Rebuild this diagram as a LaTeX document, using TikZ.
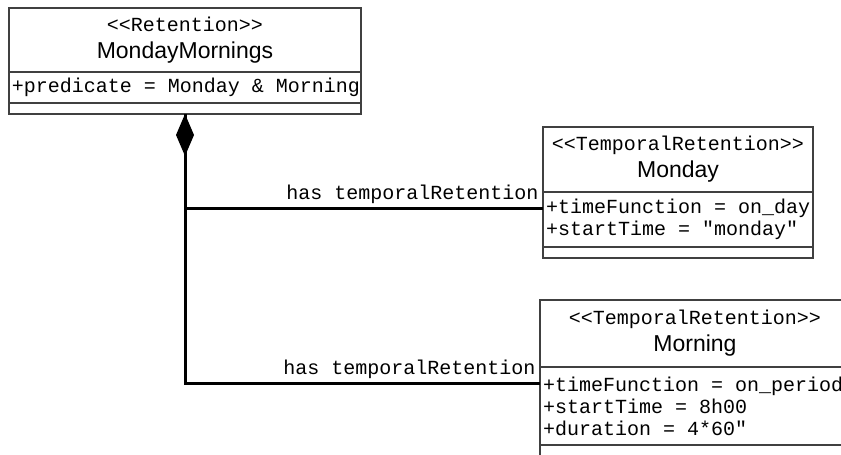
\documentclass[tikz,border=0pt]{standalone}
\usepackage{fontspec}
\setmainfont{Liberation Sans}
\setmonofont{Liberation Mono}
\usetikzlibrary{arrows.meta, positioning}
\newcommand{\umlmono}{\ttfamily\fontsize{20}{22}\selectfont}
\newcommand{\umlstereo}[1]{{\umlmono #1}}
\tikzset{
  uml head/.style={
    rectangle, draw=black!75, line width=1.2pt,
    outer sep=0pt, inner sep=0pt, align=center,
    font=\fontsize{23}{27}\selectfont
  },
  uml attr/.style={
    rectangle, draw=black!75, line width=1.2pt,
    outer sep=0pt, inner xsep=3pt, inner ysep=0pt,
    text width=#1, align=flush left, font=\umlmono
  },
  uml ops/.style={
    rectangle, draw=black!75, line width=1.2pt,
    outer sep=0pt, inner sep=0pt, minimum height=11
  },
  uml link/.style={
    draw=black, line width=3pt
  },
  uml comp/.style={
    uml link, {Diamond[length=42pt, width=18pt]}-
  },
  uml label/.style={
    font=\umlmono, inner xsep=3pt, inner ysep=3pt
  }
}

\begin{document}
\begin{tikzpicture}[x=1pt, y=-1pt]
  \useasboundingbox (0,0) rectangle (841,455);
  \clip (0,0) rectangle (841,455);

  \node (mm) [uml head, minimum width=352, minimum height=64] at (185,40)
    {\umlstereo{<<Retention>>}\\MondayMornings};
  \node (mm attr) [uml attr=346pt, minimum height=31, below=0pt of mm]
    {\mbox{+predicate = Monday \& Morning}};
  \node (mm ops) [uml ops, minimum width=352, below=0pt of mm attr] {};

  \node (mon) [uml head, minimum width=270, minimum height=65] at (678,159.5)
    {\umlstereo{<<TemporalRetention>>}\\Monday};
  \node (mon attr) [uml attr=264pt, minimum height=55, below=0pt of mon]
    {\mbox{+timeFunction = on\_day}\\+startTime = "monday"};
  \node (mon ops) [uml ops, minimum width=270, below=0pt of mon attr] {};

  \node (mor) [uml head, minimum width=310, minimum height=67] at (695,333.5)
    {\umlstereo{<<TemporalRetention>>}\\Morning};
  \node (mor attr) [uml attr=304pt, minimum height=78, below=0pt of mor]
    {\mbox{+timeFunction = on\_period}\\+startTime = 8h00\\+duration = 4*60"};
  \node (mor ops) [uml ops, minimum width=310, below=0pt of mor attr] {};

  % composition
  \draw [uml link] (mm ops.south) |- ([yshift=-16pt]mor attr.north west)
    node [uml label, pos=1, anchor=south east] {has temporalRetention};
  \draw [uml comp] (mm ops.south) |- ([yshift=-16pt]mon attr.north west)
    node [uml label, pos=1, anchor=south east] {has temporalRetention};
\end{tikzpicture}
\end{document}
